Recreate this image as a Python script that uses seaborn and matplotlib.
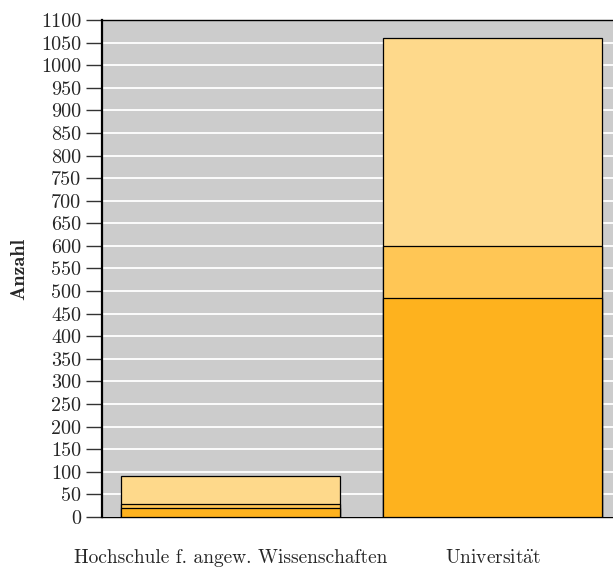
import pandas as pd
import numpy as np
import matplotlib
matplotlib.use("Agg")
import matplotlib.pyplot as plt
import seaborn as sns

# ---------- DATA ----------

categories = ["Hochschule f. angew. Wissenschaften", "Universität"]
category_labels = ["Hochschule f. angew. Wissenschaften", r"Universit$\ddot{\mathrm{a}}$t"]
part_bottom = [20, 485]
part_middle = [8, 115]
part_top = [62, 460]
y_ticks = list(range(0, 1101, 50))

colors = ["#FEB21E", "#FFC655", "#FED98B"]

# ---------- STYLE ----------

sns.set_style("white")
plt.rcParams["font.family"] = ["cmr10", "DejaVu Serif"]
plt.rcParams["axes.unicode_minus"] = False
plt.rcParams["mathtext.fontset"] = "cm"

# ---------- CHART ----------

df = pd.DataFrame({
    "cat": categories,
    "bottom": part_bottom,
    "middle": np.array(part_bottom) + np.array(part_middle),
    "top": np.array(part_bottom) + np.array(part_middle) + np.array(part_top),
})

fig = plt.figure(figsize=(6.13, 5.70), dpi=100)
ax = fig.add_axes([0.1664, 0.093, 0.84, 0.8719])
ax.set_facecolor("#cccccc")

# stacked bars: draw cumulative totals from the top layer down
for col, c in zip(["top", "middle", "bottom"], colors[::-1]):
    sns.barplot(data=df, x="cat", y=col, order=categories, color=c,
                edgecolor="black", linewidth=0.9, width=0.834,
                saturation=1, ax=ax, zorder=3)

ax.set_xlim(-0.4895, 1.4725)
ax.set_ylim(0, 1100)
ax.set_yticks(y_ticks)
ax.set_yticklabels([str(t) for t in y_ticks])
ax.set_xticks([0, 1])
ax.set_xticklabels(category_labels)
ax.yaxis.grid(True, color="white", linewidth=1.3, zorder=0)
ax.set_axisbelow(True)

ax.spines["right"].set_visible(False)
ax.spines["top"].set_linewidth(1.0)
ax.spines["bottom"].set_linewidth(1.0)
ax.spines["left"].set_linewidth(1.6)
for s in ["top", "bottom", "left"]:
    ax.spines[s].set_color("black")

ax.tick_params(axis="y", direction="out", length=11.5, width=1.0,
               color="#333333", pad=3.5, labelsize=14.5, left=True)
ax.tick_params(axis="x", length=0, pad=23, labelsize=14)

ax.set_xlabel("")
ax.set_ylabel("Anzahl", fontsize=14.5, family=["cmb10", "DejaVu Serif"],
              fontweight="bold", labelpad=9)

fig.savefig("out.png", dpi=100)
